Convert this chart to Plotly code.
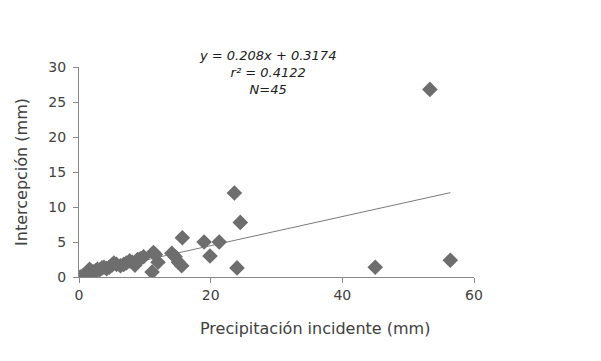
import plotly.graph_objects as go

precip = [0.2, 0.5, 0.8, 1.0, 1.3, 1.6, 1.9, 2.2, 2.5, 2.8, 3.1, 3.5, 3.8, 4.2, 4.6,
          5.0, 5.3, 5.7, 6.3, 6.8, 7.2, 7.7, 8.1, 8.5, 8.9, 9.3, 9.8,
          11.3, 11.1, 12.0, 11.6, 14.1, 14.6, 15.1, 15.6, 15.7,
          19.0, 19.9, 21.3, 23.6, 24.5, 24.0, 45.0, 53.3, 56.4]
intercep = [0.0, 0.1, 0.3, 0.4, 0.6, 1.1, 0.8, 0.7, 0.9, 1.1, 1.0, 1.3, 1.4, 1.2, 1.4,
            1.7, 2.0, 1.8, 1.6, 1.8, 2.0, 2.3, 2.1, 1.7, 2.5, 2.6, 2.9,
            3.5, 0.7, 2.1, 3.2, 3.4, 2.9, 2.1, 1.6, 5.6,
            5.0, 3.0, 5.0, 12.0, 7.8, 1.3, 1.4, 26.8, 2.4]
slope = 0.208
intercept = 0.3174
x_ticks = [0, 20, 40, 60]
y_ticks = [0, 5, 10, 15, 20, 25, 30]

x_line = [min(precip), max(precip)]
y_line = [slope * v + intercept for v in x_line]

fig = go.Figure()
fig.add_trace(go.Scatter(x=x_line, y=y_line, mode="lines",
                         line=dict(color="#7a7a7a", width=1), hoverinfo="skip"))
fig.add_trace(go.Scatter(x=precip, y=intercep, mode="markers",
                         marker=dict(symbol="diamond", size=12, color="#6e6e6e")))

axis_font = dict(family="DejaVu Sans", size=14, color="#404040")
fig.update_layout(
    width=601, height=361,
    margin=dict(l=71, r=135, t=59, b=92),
    paper_bgcolor="white", plot_bgcolor="white",
    showlegend=False,
    font=dict(family="DejaVu Sans", color="#404040"),
    xaxis=dict(range=[0, 60], tickvals=x_ticks, showgrid=False, zeroline=False,
               showline=True, linecolor="#888888", linewidth=1,
               ticks="outside", ticklen=5, tickcolor="#888888",
               tickfont=axis_font, automargin=False),
    yaxis=dict(range=[0, 30], tickvals=y_ticks, showgrid=False, zeroline=False,
               showline=True, linecolor="#888888", linewidth=1,
               ticks="outside", ticklen=5, tickcolor="#888888",
               tickfont=axis_font, automargin=False, ticklabelstandoff=4,
               title=dict(text="Intercepción (mm)",
                          font=dict(family="DejaVu Sans", size=16, color="#404040"),
                          standoff=16)),
)
fig.add_annotation(
    text="Precipitación incidente (mm)",
    xref="paper", yref="paper", x=0.597, y=-0.243, xanchor="center", yanchor="middle",
    showarrow=False, font=dict(family="DejaVu Sans", size=16, color="#404040"),
)
fig.add_annotation(
    text=f"<i>y = {slope}x + {intercept}</i><br><i>r² = 0.4122</i><br><i>N=45</i>",
    xref="paper", yref="paper", x=0.476, y=1.10, xanchor="center", yanchor="top",
    showarrow=False, align="center",
    font=dict(family="DejaVu Sans", size=13, color="#202020"),
)
fig.write_html("out.html")
